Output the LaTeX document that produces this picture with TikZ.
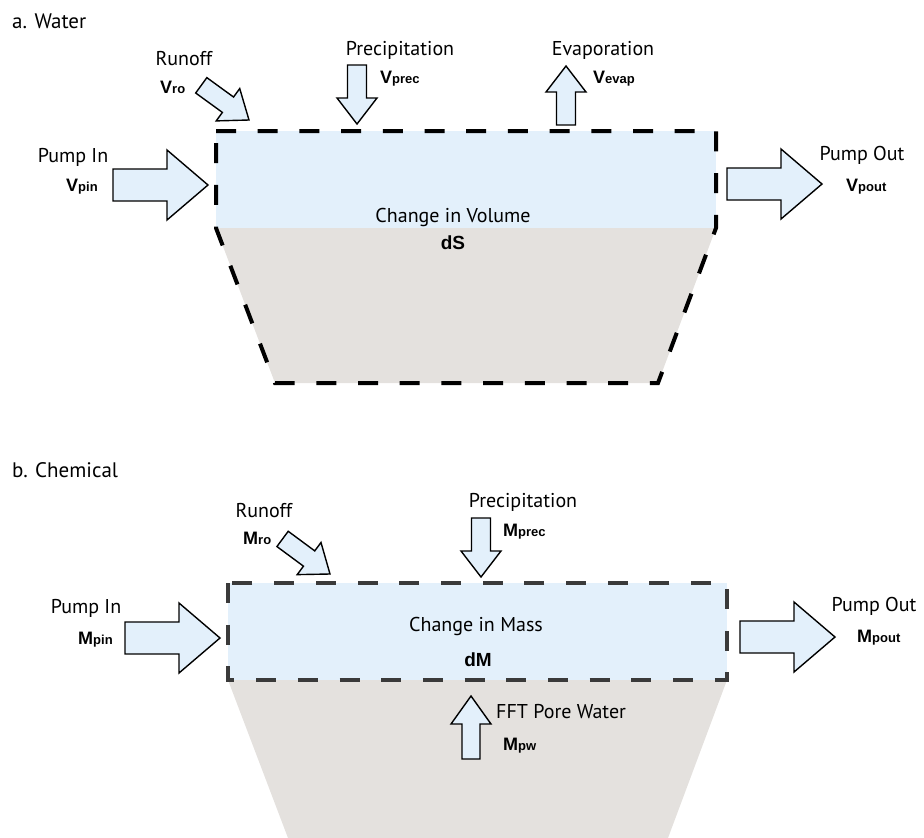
\documentclass[tikz,border=0pt]{standalone}
\usepackage{fontspec}
\setmainfont{PT Sans}
\newfontfamily\varfont{Liberation Sans}
\definecolor{water}{HTML}{E3F0FB}
\definecolor{soil}{HTML}{E4E1DE}
\definecolor{dashgray}{HTML}{3A3A3A}
\newcommand{\vlab}[2]{{\varfont\bfseries\fontsize{18}{18}\selectfont #1}{\varfont\bfseries\fontsize{13}{13}\selectfont #2}}
\begin{document}
\begin{tikzpicture}[x=1pt,y=-1pt,
  flow/.style={draw=black, fill=water, line width=1.4pt, line join=miter},
  lbl/.style={font=\fontsize{20}{22}\selectfont, inner sep=0pt, anchor=base},
  ttl/.style={font=\fontsize{21}{23}\selectfont, inner sep=0pt, anchor=base west},
  var/.style={inner sep=0pt, anchor=base west},
  big/.style={font=\varfont\bfseries\fontsize{19}{19}\selectfont, inner sep=0pt, anchor=base},
  bound/.style={line width=4pt, dash pattern=on 20pt off 21.7pt, line join=miter},
  bigarrow/.pic={\draw[flow] (0,0) -- (-41,-35) -- (-41,-16) -- (-95,-16) -- (-95,16) -- (-41,16) -- (-41,35) -- cycle;},
  smallarrow/.pic={\draw[flow] (0,0) -- (-26,-20) -- (-26,-9.5) -- (-59,-9.5) -- (-59,9.5) -- (-26,9.5) -- (-26,20) -- cycle;}
]
\useasboundingbox (0,0) rectangle (924,838);

% ---------- panel a ----------
\fill[soil] (216,228) -- (716,228) -- (658,383) -- (275,383) -- cycle;
\fill[water] (216,131) rectangle (716,228);
\draw[bound] (216,131) -- (716,131) -- (716,228) -- (658,383) -- (275,383) -- (216,228) -- cycle;

\node[ttl] (titleA) at (12,28) {a. Water};

\pic (pinA) at (208,185) {bigarrow};
\node[lbl] (pinAl) at (73,162) {Pump In};
\node[var] (pinAv) at (66,191) {\vlab{V}{pin}};

\pic[rotate=-36] (roA) at (249,120) {smallarrow};
\node[lbl] (roAl) at (184,65) {Runoff};
\node[var] (roAv) at (160,93) {\vlab{V}{ro}};

\pic[rotate=-90] (prA) at (357,124) {smallarrow};
\node[lbl] (prAl) at (400,55) {Precipitation};
\node[var] (prAv) at (380,83) {\vlab{V}{prec}};

\pic[rotate=90] (evA) at (566,66) {smallarrow};
\node[lbl] (evAl) at (603,55) {Evaporation};
\node[var] (evAv) at (593,83) {\vlab{V}{evap}};

\pic (poA) at (822,184) {bigarrow};
\node[lbl] (poAl) at (862,160) {Pump Out};
\node[var] (poAv) at (846,191) {\vlab{V}{pout}};

\node[lbl] (chA) at (453,222) {Change in Volume};
\node[big] (dS) at (453,249) {dS};

% ---------- panel b ----------
\fill[soil] (228,680) -- (727,680) -- (668,838) -- (288,838) -- cycle;
\fill[water] (228,583) rectangle (727,680);
\draw[bound, draw=dashgray] (228,583) rectangle (727,680);

\node[ttl] (titleB) at (12,477) {b. Chemical};

\pic (pinB) at (220,638) {bigarrow};
\node[lbl] (pinBl) at (86,613) {Pump In};
\node[var] (pinBv) at (78,644) {\vlab{M}{pin}};

\pic[rotate=-36.5] (roB) at (330,574) {smallarrow};
\node[lbl] (roBl) at (264,517) {Runoff};
\node[var] (roBv) at (243,544) {\vlab{M}{ro}};

\pic[rotate=-90] (prB) at (481,577) {smallarrow};
\node[lbl] (prBl) at (523,507) {Precipitation};
\node[var] (prBv) at (503,536) {\vlab{M}{prec}};

\pic (poB) at (835,637) {bigarrow};
\node[lbl] (poBl) at (874,611) {Pump Out};
\node[var] (poBv) at (857,642) {\vlab{M}{pout}};

\node[lbl] (chB) at (476,631) {Change in Mass};
\node[big] (dM) at (478,666) {dM};

\draw[flow] (462,759) -- (462,724) -- (451,724) -- (471,696) -- (491,724) -- (480,724) -- (480,759) -- cycle;
\node[lbl, anchor=base west] (pwl) at (496,718) {FFT Pore Water};
\node[var] (pwv) at (503,750) {\vlab{M}{pw}};
\end{tikzpicture}
\end{document}
